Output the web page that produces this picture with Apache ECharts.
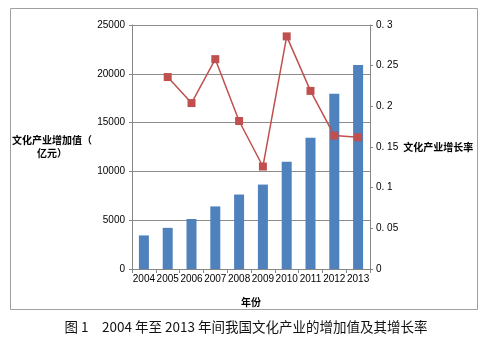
<!DOCTYPE html>
<html>
<head>
<meta charset="utf-8">
<script src="https://cdn.jsdelivr.net/npm/echarts@6/dist/echarts.min.js"></script>
<style>html,body{margin:0;padding:0;background:#fff;}#c{width:489px;height:341px;}</style>
</head>
<body>
<div id="c"></div>
<script>
var years = ['2004','2005','2006','2007','2008','2009','2010','2011','2012','2013'];
var addedValue = [3440, 4216, 5123, 6412, 7630, 8650, 11000, 13450, 17950, 20900];
var growthRate = [null, 0.236, 0.204, 0.258, 0.182, 0.126, 0.286, 0.219, 0.164, 0.162];
var leftTicks = [0, 5000, 10000, 15000, 20000, 25000];
var rightTicks = ['0', '0. 05', '0. 1', '0. 15', '0. 2', '0. 25', '0. 3'];

var cjk = '"Noto Sans CJK SC", "Liberation Sans", sans-serif';
var chart = echarts.init(document.getElementById('c'));
chart.setOption({
  animation: false,
  textStyle: { fontFamily: cjk },
  grid: { left: 132, right: 119, top: 25, bottom: 72, containLabel: false },
  graphic: [
    { type: 'rect', shape: { x: 10.5, y: 8.5, width: 467, height: 301 },
      style: { fill: 'none', stroke: '#a0a0a0', lineWidth: 1 }, z: -1 },
    { type: 'text', x: 246, y: 327,
      style: { text: '图 1　2004 年至 2013 年间我国文化产业的增加值及其增长率',
        font: '13.5px ' + cjk, fill: '#111', align: 'center', verticalAlign: 'middle' } }
  ],
  xAxis: {
    type: 'category', data: years, boundaryGap: true,
    name: '年份', nameLocation: 'middle', nameGap: 28,
    nameTextStyle: { fontSize: 10, fontWeight: 'bold', color: '#000', fontFamily: cjk },
    axisLine: { lineStyle: { color: '#868686' } },
    axisTick: { show: true, alignWithLabel: false, length: 4, lineStyle: { color: '#868686' } },
    axisLabel: { color: '#000', fontSize: 10, margin: 5, fontFamily: '"Liberation Sans", sans-serif', interval: 0 }
  },
  yAxis: [
    { type: 'value', min: 0, max: 25000, interval: 5000,
      name: '文化产业增加值（\n亿元）', nameLocation: 'middle', nameRotate: 0, nameGap: 80,
      nameTextStyle: { fontSize: 10, fontWeight: 'bold', color: '#000', align: 'center', lineHeight: 13, fontFamily: cjk },
      axisLine: { show: true, lineStyle: { color: '#868686' } },
      axisTick: { show: true, length: 3, lineStyle: { color: '#868686' } },
      axisLabel: { color: '#000', fontSize: 10, margin: 7, fontFamily: '"Liberation Sans", sans-serif',
        formatter: function (v) { return leftTicks.indexOf(v) >= 0 ? String(v) : ''; } },
      splitLine: { show: true, lineStyle: { color: '#8c8c8c' } }
    },
    { type: 'value', min: 0, max: 0.3, interval: 0.05, position: 'right',
      name: '文化产业增长率', nameLocation: 'middle', nameRotate: 0, nameGap: 67,
      nameTextStyle: { fontSize: 10, fontWeight: 'bold', color: '#000', align: 'center', fontFamily: cjk },
      axisLine: { show: true, lineStyle: { color: '#868686' } },
      axisTick: { show: true, length: 3, lineStyle: { color: '#868686' } },
      axisLabel: { color: '#000', fontSize: 10, margin: 6, fontFamily: '"Liberation Sans", sans-serif',
        formatter: function (v) { return rightTicks[Math.round(v / 0.05)]; } },
      splitLine: { show: false }
    }
  ],
  series: [
    { type: 'bar', data: addedValue, yAxisIndex: 0, barWidth: 10,
      itemStyle: { color: '#4F81BD' } },
    { type: 'line', data: growthRate, yAxisIndex: 1, connectNulls: false,
      symbol: 'rect', symbolSize: 8,
      lineStyle: { color: '#C0504D', width: 1.5 },
      itemStyle: { color: '#C0504D' } }
  ]
});
</script>
</body>
</html>
